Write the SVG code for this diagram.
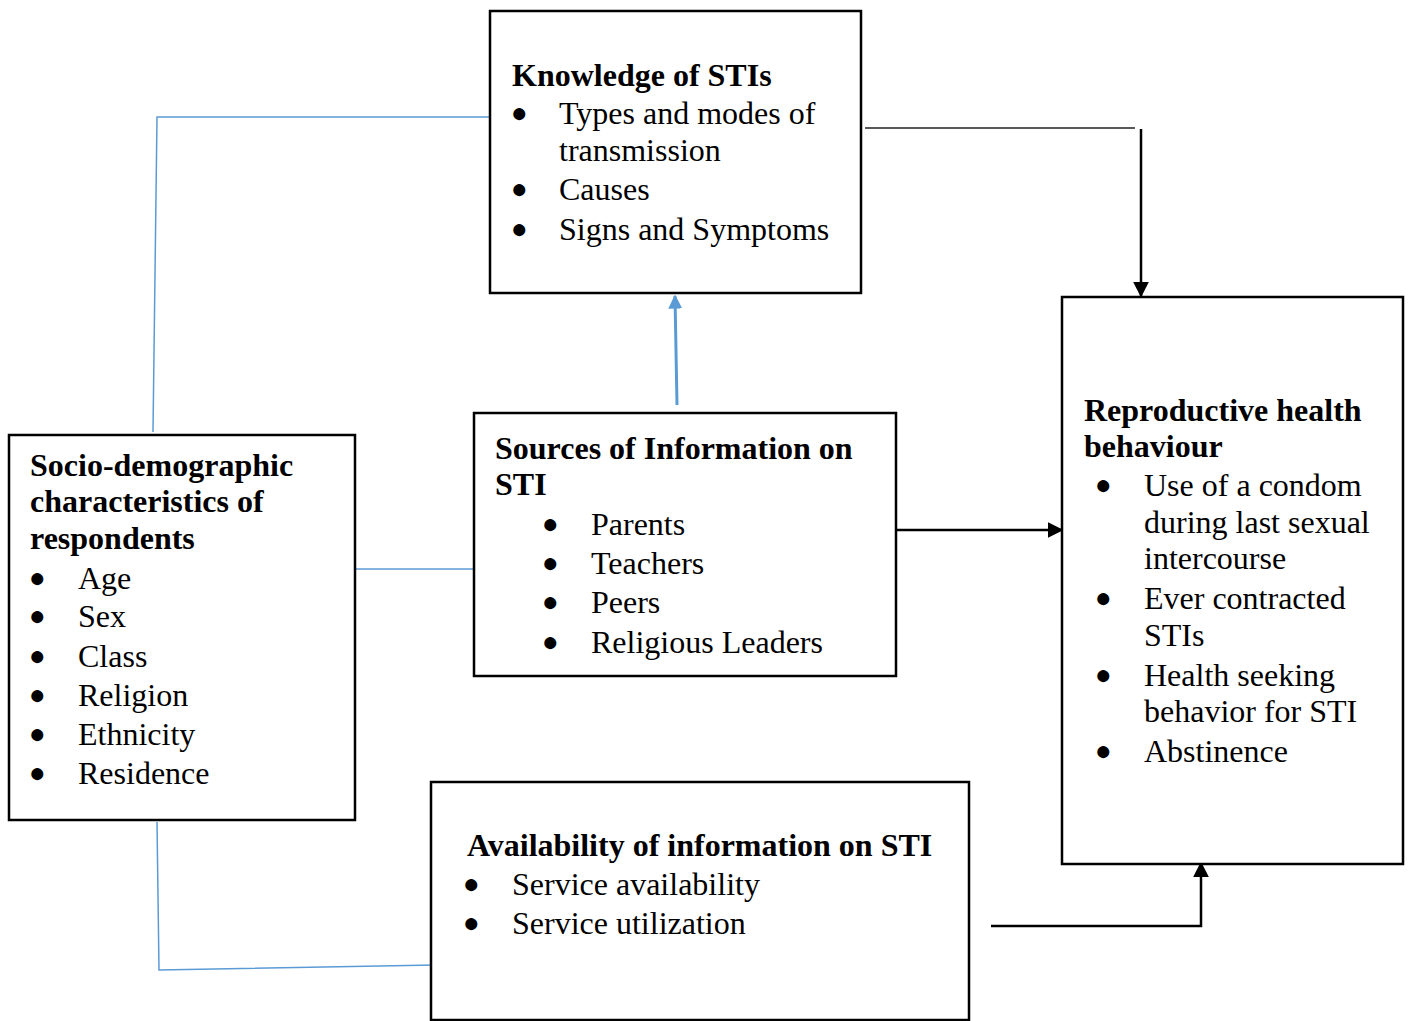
<svg xmlns="http://www.w3.org/2000/svg" width="1410" height="1021" viewBox="0 0 1410 1021">
<defs>
<style>
.box{fill:#fff;stroke:#000;stroke-width:2.5}
text{font-family:"Liberation Serif","Times New Roman",serif;font-size:32px;fill:#000}
.h{font-weight:bold}
.b{font-size:28px}
.blue{fill:none;stroke:#5B9BD5;stroke-width:1.5}
.blk{fill:none;stroke:#000;stroke-width:2.5}
.thin{fill:none;stroke:#222;stroke-width:1.5}
</style>
<marker id="abBlue" viewBox="0 0 10 10" refX="9" refY="5" markerWidth="14" markerHeight="14" orient="auto" markerUnits="userSpaceOnUse"><path d="M0,0 L10,5 L0,10 Z" fill="#5B9BD5"/></marker>
<marker id="abk" viewBox="0 0 10 10" refX="9" refY="5" markerWidth="16" markerHeight="16" orient="auto" markerUnits="userSpaceOnUse"><path d="M0,0 L10,5 L0,10 Z" fill="#000"/></marker>
</defs>
<rect width="1410" height="1021" fill="#fff"/>

<g id="connectors">
<polyline class="blue" points="153,432 157,117 492,117"/>
<line class="blue" x1="355" y1="569" x2="474" y2="569"/>
<polyline class="blue" points="157,822 159,970 435,965"/>
<line x1="677" y1="405" x2="675" y2="296" stroke="#5B9BD5" stroke-width="3" marker-end="url(#abBlue)"/>
<line class="thin" x1="865" y1="128" x2="1135" y2="128"/>
<line class="blk" x1="1141" y1="129" x2="1141" y2="296" marker-end="url(#abk)"/>
<line class="blk" x1="897" y1="530" x2="1062" y2="530" marker-end="url(#abk)"/>
<polyline class="blk" points="991,926 1201,926 1201,863" marker-end="url(#abk)"/>
</g>

<g id="knowledge">
<rect class="box" x="490" y="11" width="371" height="282"/>
<text class="h" x="512" y="86">Knowledge of STIs</text>
<text class="b" x="511" y="122">●</text>
<text class="b" x="511" y="198">●</text>
<text class="b" x="511" y="238">●</text>
<text x="559" y="124">Types and modes of</text>
<text x="559" y="161">transmission</text>
<text x="559" y="200">Causes</text>
<text x="559" y="240">Signs and Symptoms</text>
</g>

<g id="sources">
<rect class="box" x="474" y="413" width="422" height="263"/>
<text class="h" x="495" y="459">Sources of Information on</text>
<text class="h" x="495" y="495">STI</text>
<text class="b" x="542" y="533">●</text>
<text class="b" x="542" y="572">●</text>
<text class="b" x="542" y="611">●</text>
<text class="b" x="542" y="651">●</text>
<text x="591" y="535">Parents</text>
<text x="591" y="574">Teachers</text>
<text x="591" y="613">Peers</text>
<text x="591" y="653">Religious Leaders</text>
</g>

<g id="socio">
<rect class="box" x="9" y="435" width="346" height="385"/>
<text class="h" x="30" y="476">Socio-demographic</text>
<text class="h" x="30" y="512">characteristics of</text>
<text class="h" x="30" y="549">respondents</text>
<text class="b" x="29" y="587">●</text>
<text class="b" x="29" y="625">●</text>
<text class="b" x="29" y="665">●</text>
<text class="b" x="29" y="704">●</text>
<text class="b" x="29" y="743">●</text>
<text class="b" x="29" y="782">●</text>
<text x="78" y="589">Age</text>
<text x="78" y="627">Sex</text>
<text x="78" y="667">Class</text>
<text x="78" y="706">Religion</text>
<text x="78" y="745">Ethnicity</text>
<text x="78" y="784">Residence</text>
</g>

<g id="reproductive">
<rect class="box" x="1062" y="297" width="341" height="567"/>
<text class="h" x="1084" y="421">Reproductive health</text>
<text class="h" x="1084" y="457">behaviour</text>
<text class="b" x="1095" y="494">●</text>
<text class="b" x="1095" y="607">●</text>
<text class="b" x="1095" y="684">●</text>
<text class="b" x="1095" y="760">●</text>
<text x="1144" y="496">Use of a condom</text>
<text x="1144" y="533">during last sexual</text>
<text x="1144" y="569">intercourse</text>
<text x="1144" y="609">Ever contracted</text>
<text x="1144" y="646">STIs</text>
<text x="1144" y="686">Health seeking</text>
<text x="1144" y="722">behavior for STI</text>
<text x="1144" y="762">Abstinence</text>
</g>

<g id="availability">
<rect class="box" x="431" y="782" width="538" height="238"/>
<text class="h" x="467" y="856">Availability of information on STI</text>
<text class="b" x="463" y="893">●</text>
<text class="b" x="463" y="932">●</text>
<text x="512" y="895">Service availability</text>
<text x="512" y="934">Service utilization</text>
</g>
</svg>
